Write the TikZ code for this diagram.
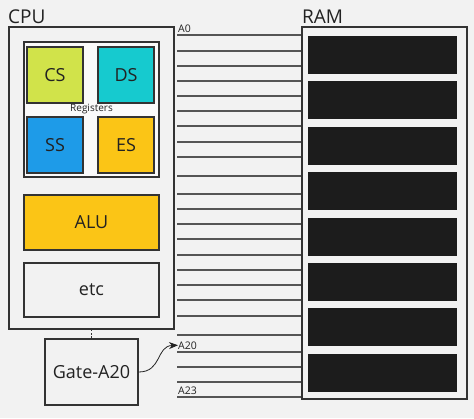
\documentclass[tikz,border=0pt]{standalone}
\usepackage{fontspec}
\setmainfont{Open Sans}
\usetikzlibrary{positioning}
\usetikzlibrary{arrows, arrows.meta}

\definecolor{bgcol}{HTML}{F2F2F2}
\definecolor{edgecol}{HTML}{333333}
\definecolor{txtcol}{HTML}{222222}
\definecolor{buscol}{HTML}{555555}
\definecolor{cscol}{HTML}{D1E34A}
\definecolor{dscol}{HTML}{16CACF}
\definecolor{sscol}{HTML}{1E9BE8}
\definecolor{escol}{HTML}{FBC516}
\definecolor{cellcol}{HTML}{1C1C1C}

\tikzset{
  unit/.style={draw=edgecol, line width=1.6pt, rectangle, inner sep=0pt, text=txtcol, font=\fontsize{18}{20}\selectfont},
  regbox/.style={unit, minimum width=56pt, minimum height=56pt},
  wide/.style={unit, minimum width=135pt},
  title/.style={inner sep=0pt, anchor=base west, text=txtcol, font=\fontsize{19}{21}\selectfont},
  pin/.style={inner sep=0pt, anchor=base west, text=txtcol, font=\fontsize{10.5}{12}\selectfont},
  bus/.style={draw=buscol, line width=1.2pt},
  cell/.style={fill=cellcol, draw=none, minimum width=149pt, minimum height=38pt, inner sep=0pt}
}

\begin{document}
\begin{tikzpicture}[x=1pt, y=-1pt]
  \fill[bgcol] (0,0) rectangle (474,418);
  \useasboundingbox (0,0) rectangle (474,418);

  % cpu side
  \node[title] (cpulabel) at (8,23) {CPU};
  \node[unit, fill=bgcol, minimum width=165pt, minimum height=302pt] (cpu) at (91.5,178) {};
  \node[unit, fill=white!60!bgcol, minimum width=135pt, minimum height=135pt] (regs) at (91.5,109.5) {};
  \node[inner sep=0pt, text=txtcol, font=\fontsize{10}{11}\selectfont] (reglabel) at (91.5,109.5) {Registers};

  \node[regbox, fill=cscol] (cs) at (55,75) {CS};
  \node[regbox, fill=dscol] (ds) at (126,75) {DS};
  \node[regbox, fill=sscol] (ss) at (55,145) {SS};
  \node[regbox, fill=escol] (es) at (126,145) {ES};

  \node[wide, fill=escol, minimum height=55pt] (alu) at (91.5,222.5) {ALU};
  \node[wide, fill=bgcol, minimum height=54pt] (etc) at (91.5,290) {etc};

  \node[unit, fill=bgcol, line width=1.3pt, minimum width=93pt, minimum height=66pt] (gate) at (91.5,372) {Gate-A20};
  \draw[edgecol, line width=1.6pt, dash pattern=on 1.6pt off 1.6pt] (cpu.south) -- (gate.north);

  % ram side
  \node[title] (ramlabel) at (302,23) {RAM};
  \node[unit, fill=bgcol, minimum width=165pt, minimum height=372pt] (ram) at (384.5,213) {};
  \foreach \i in {0,...,7}
    \node[cell] (cell\i) at (382.5,55+45.4*\i) {};

  % address bus
  \foreach \y in {35,51,66,81,96,111,126,142,157,176,194,209,224,239,255,270,285,300,316,335,352,367,382,397}
    \draw[bus] (177,\y) -- (ram.west |- 0,\y);

  \node[pin] (a0) at (178,32) {A0};
  \node[pin] (a20) at (178,349) {A20};
  \node[pin] (a23) at (178,394) {A23};

  \draw[-{Stealth[length=9pt, width=7pt]}, txtcol, line width=0.8pt]
    (gate.east) .. controls (162,372) and (156,346) .. (a20.west);
\end{tikzpicture}
\end{document}
